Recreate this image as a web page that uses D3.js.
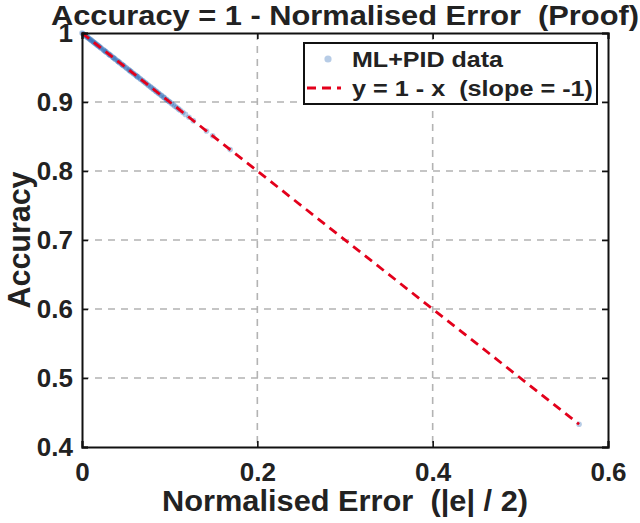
<!DOCTYPE html>
<html>
<head>
<meta charset="utf-8">
<script src="https://cdn.jsdelivr.net/npm/d3@7"></script>
<style>
  body { margin: 0; background: #fff; }
  text { font-family: "Liberation Sans", Arial, Helvetica, sans-serif; font-weight: bold; fill: #222; white-space: pre; }
</style>
</head>
<body>
<script>
const svgW = 640;
const svgH = 523;
const margin = { top: 33, right: 32, bottom: 76, left: 82 };

// normalised error values (dense near 0)
const errors = [0, 0.001, 0.002, 0.003, 0.004, 0.005, 0.006, 0.007, 0.008, 0.009,
  0.01, 0.011, 0.012, 0.013, 0.014, 0.015, 0.016, 0.017, 0.018, 0.019,
  0.02, 0.021, 0.022, 0.024, 0.025, 0.026, 0.027, 0.028, 0.03, 0.031,
  0.032, 0.033, 0.035, 0.036, 0.037, 0.038, 0.04, 0.041, 0.042, 0.043,
  0.045, 0.046, 0.047, 0.048, 0.05, 0.051, 0.053, 0.054, 0.055, 0.056,
  0.058, 0.059, 0.061, 0.062, 0.063, 0.064, 0.066, 0.067, 0.069, 0.07,
  0.072, 0.073, 0.075, 0.076, 0.078, 0.079, 0.081, 0.082, 0.084, 0.085,
  0.087, 0.088, 0.09, 0.091, 0.093, 0.094, 0.096, 0.097, 0.099, 0.1,
  0.102, 0.104, 0.106, 0.108, 0.11, 0.112, 0.115, 0.118, 0.122, 0.127,
  0.142, 0.149, 0.169, 0.567];
const accuracy = [1, 0.999, 0.998, 0.997, 0.996, 0.995, 0.994, 0.993, 0.992, 0.991,
  0.99, 0.989, 0.988, 0.987, 0.986, 0.985, 0.984, 0.983, 0.982, 0.981,
  0.98, 0.979, 0.978, 0.976, 0.975, 0.974, 0.973, 0.972, 0.97, 0.969,
  0.968, 0.967, 0.965, 0.964, 0.963, 0.962, 0.96, 0.959, 0.958, 0.957,
  0.955, 0.954, 0.953, 0.952, 0.95, 0.949, 0.947, 0.946, 0.945, 0.944,
  0.942, 0.941, 0.939, 0.938, 0.937, 0.936, 0.934, 0.933, 0.931, 0.93,
  0.928, 0.927, 0.925, 0.924, 0.922, 0.921, 0.919, 0.918, 0.916, 0.915,
  0.913, 0.912, 0.91, 0.909, 0.907, 0.906, 0.904, 0.903, 0.901, 0.9,
  0.898, 0.896, 0.894, 0.892, 0.89, 0.888, 0.885, 0.882, 0.878, 0.873,
  0.858, 0.851, 0.831, 0.433];

const lineX = [0, 0.567];
const lineY = [1, 0.433];

const xTicks = [0, 0.2, 0.4, 0.6];
const yTicks = [0.4, 0.5, 0.6, 0.7, 0.8, 0.9, 1];
const xTickLabels = ['0', '0.2', '0.4', '0.6'];
const yTickLabels = ['0.4', '0.5', '0.6', '0.7', '0.8', '0.9', '1'];

const legendLabels = ['ML+PID data', 'y = 1 - x  (slope = -1)'];
const titleText = 'Accuracy = 1 - Normalised Error  (Proof)';
const xLabelText = 'Normalised Error  (|e| / 2)';
const yLabelText = 'Accuracy';

const innerW = svgW - margin.left - margin.right;
const innerH = svgH - margin.top - margin.bottom;

const svg = d3.select('body')
              .append('svg')
              .attr('width', svgW)
              .attr('height', svgH);

const g = svg.append('g')
             .attr('transform', `translate(${margin.left}, ${margin.top})`);

const x = d3.scaleLinear().domain([0, 0.6]).range([0, innerW]);
const y = d3.scaleLinear().domain([0.4, 1]).range([innerH, 0]);

// grid
g.append('g').selectAll('line')
  .data(xTicks.slice(1, -1))
  .enter().append('line')
  .attr('x1', d => x(d)).attr('x2', d => x(d))
  .attr('y1', 0).attr('y2', innerH)
  .attr('stroke', '#b3b3b3').attr('stroke-width', 1.6)
  .attr('stroke-dasharray', '7,6');
g.append('g').selectAll('line')
  .data(yTicks.slice(1, -1))
  .enter().append('line')
  .attr('y1', d => y(d)).attr('y2', d => y(d))
  .attr('x1', 0).attr('x2', innerW)
  .attr('stroke', '#b3b3b3').attr('stroke-width', 1.6)
  .attr('stroke-dasharray', '7,6');

// data points
const pts = errors.map((e, i) => [e, accuracy[i]]);
g.append('g').selectAll('circle')
  .data(pts)
  .enter().append('circle')
  .attr('cx', d => x(d[0]))
  .attr('cy', d => y(d[1]))
  .attr('r', 2.8)
  .attr('fill', '#1f5fb0')
  .attr('fill-opacity', 0.32);

// y = 1 - x line
g.append('path')
  .datum(lineX.map((v, i) => [v, lineY[i]]))
  .attr('d', d3.line().x(d => x(d[0])).y(d => y(d[1])))
  .attr('fill', 'none')
  .attr('stroke', '#e3001b')
  .attr('stroke-width', 2.8)
  .attr('stroke-dasharray', '9,6');

// axes (ticks inward, box)
const xAxisB = d3.axisBottom(x).tickValues(xTicks).tickSize(-6).tickFormat((d, i) => xTickLabels[i]).tickPadding(16);
const yAxisL = d3.axisLeft(y).tickValues(yTicks).tickSize(-6).tickFormat((d, i) => yTickLabels[i]).tickPadding(9);
const xAxisT = d3.axisTop(x).tickValues(xTicks).tickSize(-6).tickFormat('');
const yAxisR = d3.axisRight(y).tickValues(yTicks).tickSize(-6).tickFormat('');

const styleAxis = sel => {
  sel.select('.domain').attr('stroke', '#111').attr('stroke-width', 2);
  sel.selectAll('.tick line').attr('stroke', '#111').attr('stroke-width', 1.6);
  sel.selectAll('text').attr('font-size', 26).attr('fill', '#222')
     .attr('font-family', '"Liberation Sans", Arial, sans-serif').attr('font-weight', 'bold');
};

g.append('g').attr('transform', `translate(0, ${innerH})`).call(xAxisB).call(styleAxis);
g.append('g').call(yAxisL).call(styleAxis);
g.append('g').call(xAxisT).call(styleAxis);
g.append('g').attr('transform', `translate(${innerW}, 0)`).call(yAxisR).call(styleAxis);

// title & labels
svg.append('text')
  .attr('x', margin.left + innerW / 2)
  .attr('y', 25)
  .attr('text-anchor', 'middle')
  .attr('font-size', 28)
  .attr('textLength', 588)
  .attr('lengthAdjust', 'spacingAndGlyphs')
  .text(titleText);

svg.append('text')
  .attr('x', margin.left + innerW / 2)
  .attr('y', 511)
  .attr('text-anchor', 'middle')
  .attr('font-size', 29)
  .attr('textLength', 366)
  .attr('lengthAdjust', 'spacingAndGlyphs')
  .text(xLabelText);

svg.append('text')
  .attr('transform', `translate(30, ${margin.top + innerH / 2}) rotate(-90)`)
  .attr('text-anchor', 'middle')
  .attr('font-size', 31)
  .attr('textLength', 137)
  .attr('lengthAdjust', 'spacingAndGlyphs')
  .text(yLabelText);

// legend
const lg = svg.append('g').attr('transform', 'translate(304, 43)');
lg.append('rect')
  .attr('width', 293).attr('height', 61)
  .attr('fill', '#fff').attr('stroke', '#111').attr('stroke-width', 2);
lg.append('circle')
  .attr('cx', 24).attr('cy', 16).attr('r', 3.6)
  .attr('fill', '#1f5fb0').attr('fill-opacity', 0.32);
lg.append('line')
  .attr('x1', 3).attr('x2', 37).attr('y1', 45).attr('y2', 45)
  .attr('stroke', '#e3001b').attr('stroke-width', 2.8)
  .attr('stroke-dasharray', '9,6');
const legLen = [151, 241];
lg.selectAll('text.leg')
  .data(legendLabels)
  .enter().append('text')
  .attr('class', 'leg')
  .attr('x', 48)
  .attr('y', (d, i) => 24 + i * 29)
  .attr('font-size', 22)
  .attr('textLength', (d, i) => legLen[i])
  .attr('lengthAdjust', 'spacingAndGlyphs')
  .text(d => d);
</script>
</body>
</html>
